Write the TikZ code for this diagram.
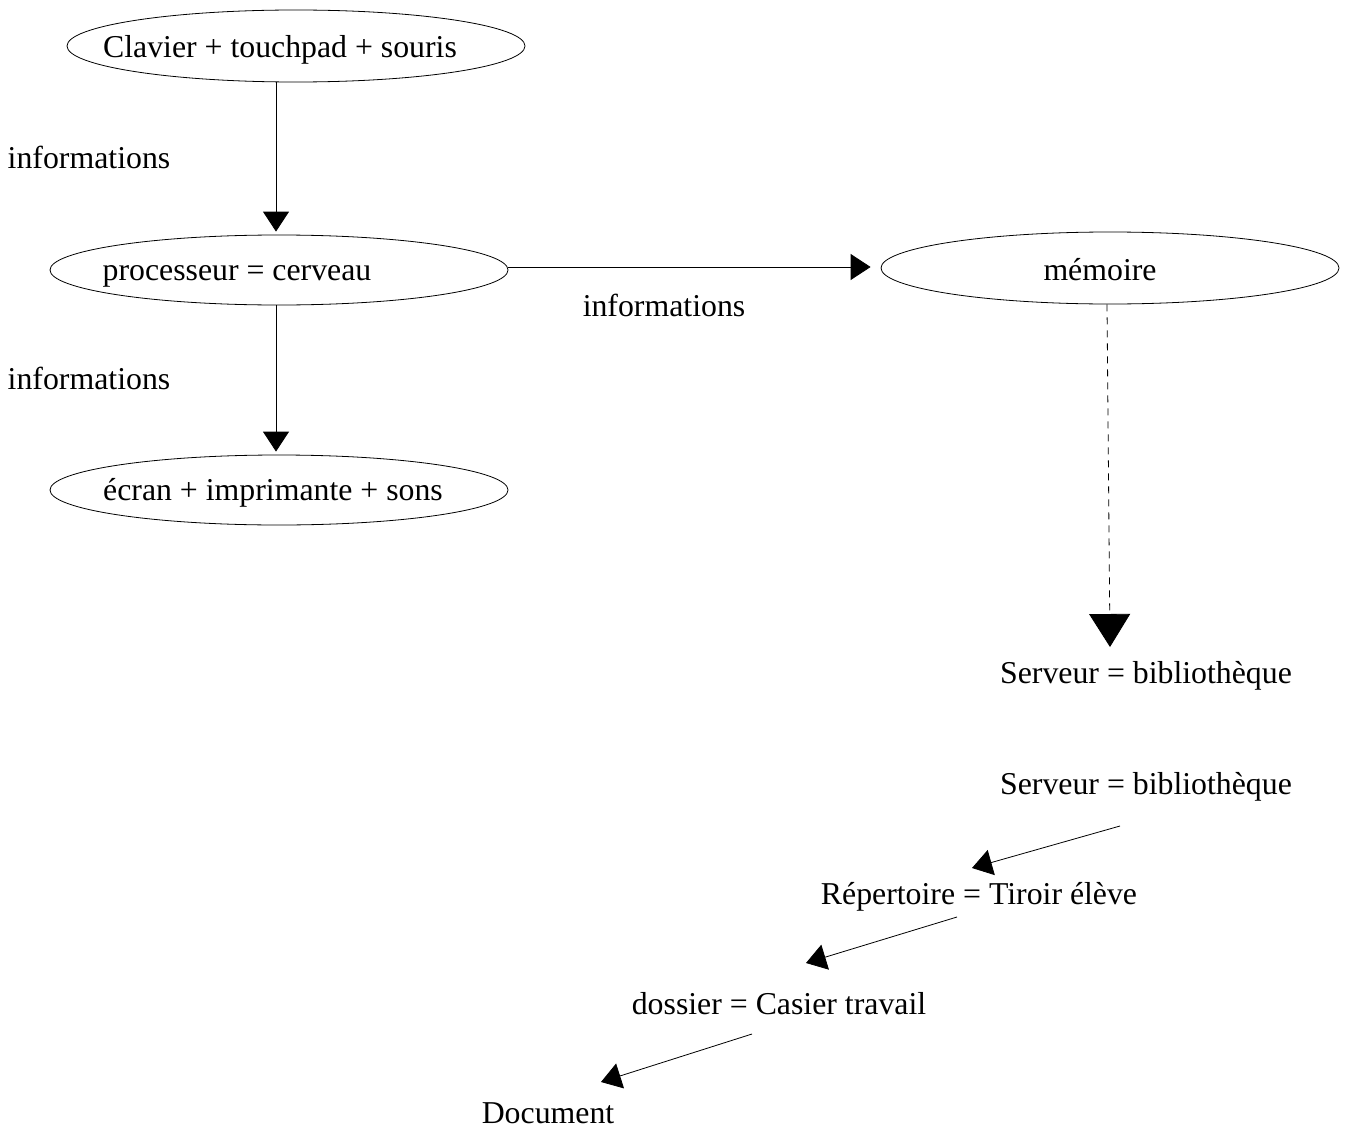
\documentclass[tikz,border=0pt]{standalone}
\usepackage{fontspec}
\setmainfont{Liberation Serif}
\usetikzlibrary{shapes.geometric,arrows.meta}
\begin{document}
\begin{tikzpicture}[x=1pt,y=-1pt,
  oval/.style={draw,ellipse,inner sep=0pt,line width=0.8pt},
  txt/.style={inner sep=0pt,font=\fontsize{31.8}{38}\selectfont,text height=22pt,text depth=7pt},
  arr/.style={line width=0.8pt,-{Triangle[length=20pt,width=26pt]}},
  bigarr/.style={line width=0.8pt,dash pattern=on 7pt off 6pt,-{Triangle[length=33pt,width=41pt]}}]
\useasboundingbox (0,0) rectangle (1346,1129);
% ellipses
\node[oval,minimum width=458pt,minimum height=72pt] (e1) at (296,46) {};
\node[oval,minimum width=458pt,minimum height=70pt] (e2) at (279,270) {};
\node[oval,minimum width=458pt,minimum height=70pt] (e3) at (279,490) {};
\node[oval,minimum width=458pt,minimum height=72pt] (e4) at (1110,268) {};
% texts
\node[txt] (t1) at (280,50) {Clavier + touchpad + souris};
\node[txt] (t2) at (237,273) {processeur = cerveau};
\node[txt] (t3) at (273,493) {écran + imprimante + sons};
\node[txt] (t4) at (1100,273) {mémoire};
\node[txt] (l1) at (89,161) {informations};
\node[txt] (l2) at (664,309) {informations};
\node[txt] (l3) at (89,382) {informations};
\node[txt] (s1) at (1146,676) {Serveur = bibliothèque};
\node[txt] (s2) at (1146,787) {Serveur = bibliothèque};
\node[txt] (r) at (979,897) {Répertoire = Tiroir élève};
\node[txt] (d) at (779,1007) {dossier = Casier travail};
\node[txt] (doc) at (548,1116) {Document};
% connectors
\draw[arr,shorten >=3pt] ([xshift=-20pt]e1.south) -- ([xshift=-3pt]e2.north);
\draw[arr,shorten >=3pt] ([xshift=-3pt]e2.south) -- ([xshift=-3pt]e3.north);
\draw[arr,shorten >=10pt] ([yshift=3pt]e2.east) -- ([yshift=1pt]e4.west);
\draw[bigarr] ([xshift=-3pt]e4.south) -- ([shift={(-36pt,29pt)}]s1.center);
\draw[arr] ([shift={(-26pt,-39pt)}]s2.center) -- ([shift={(-7pt,29pt)}]r.center);
\draw[arr] ([shift={(-22pt,-20pt)}]r.center) -- ([shift={(27pt,44pt)}]d.center);
\draw[arr] ([shift={(-27pt,-27pt)}]d.center) -- ([shift={(53pt,34pt)}]doc.center);
\end{tikzpicture}
\end{document}
